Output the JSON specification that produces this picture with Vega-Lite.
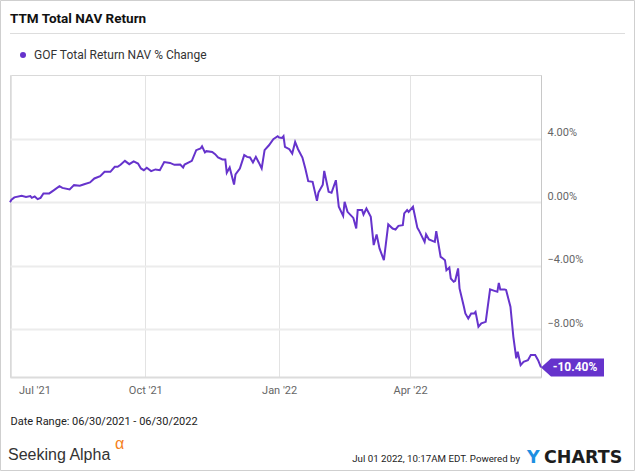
{
  "$schema": "https://vega.github.io/schema/vega-lite/v6.json",
  "autosize": {"type": "none"},
  "width": 531,
  "height": 302,
  "padding": {"left": 10, "top": 75, "right": 94, "bottom": 94},
  "background": "white",
  "config": {"font": "Roboto", "view": {"stroke": "#d9d9d9", "strokeWidth": 1}},
  "title": {"text": "TTM Total NAV Return", "anchor": "start", "frame": "group", "fontSize": 13.5, "fontWeight": "bold", "color": "#111111", "font": "Roboto", "offset": -25},
  "datasets": {
    "nav": [
      {"date": "2021-06-30", "value": 0.00},
      {"date": "2021-07-01", "value": 0.15},
      {"date": "2021-07-03", "value": 0.30},
      {"date": "2021-07-08", "value": 0.40},
      {"date": "2021-07-11", "value": 0.33},
      {"date": "2021-07-14", "value": 0.38},
      {"date": "2021-07-15", "value": 0.27},
      {"date": "2021-07-17", "value": 0.36},
      {"date": "2021-07-19", "value": 0.19},
      {"date": "2021-07-21", "value": 0.27},
      {"date": "2021-07-23", "value": 0.55},
      {"date": "2021-07-27", "value": 0.55},
      {"date": "2021-07-30", "value": 0.74},
      {"date": "2021-08-03", "value": 1.01},
      {"date": "2021-08-05", "value": 0.90},
      {"date": "2021-08-10", "value": 0.80},
      {"date": "2021-08-13", "value": 1.07},
      {"date": "2021-08-17", "value": 1.03},
      {"date": "2021-08-20", "value": 1.13},
      {"date": "2021-08-24", "value": 1.24},
      {"date": "2021-08-27", "value": 1.49},
      {"date": "2021-08-31", "value": 1.64},
      {"date": "2021-09-03", "value": 1.91},
      {"date": "2021-09-07", "value": 1.91},
      {"date": "2021-09-10", "value": 2.22},
      {"date": "2021-09-12", "value": 2.22},
      {"date": "2021-09-14", "value": 2.35},
      {"date": "2021-09-17", "value": 2.60},
      {"date": "2021-09-20", "value": 2.39},
      {"date": "2021-09-23", "value": 2.56},
      {"date": "2021-09-26", "value": 2.43},
      {"date": "2021-09-28", "value": 2.12},
      {"date": "2021-09-30", "value": 2.01},
      {"date": "2021-10-02", "value": 2.16},
      {"date": "2021-10-05", "value": 1.95},
      {"date": "2021-10-08", "value": 2.06},
      {"date": "2021-10-11", "value": 2.01},
      {"date": "2021-10-14", "value": 2.52},
      {"date": "2021-10-18", "value": 2.47},
      {"date": "2021-10-21", "value": 2.35},
      {"date": "2021-10-25", "value": 2.37},
      {"date": "2021-10-27", "value": 2.18},
      {"date": "2021-10-28", "value": 2.37},
      {"date": "2021-11-02", "value": 2.60},
      {"date": "2021-11-05", "value": 3.27},
      {"date": "2021-11-08", "value": 3.38},
      {"date": "2021-11-09", "value": 3.52},
      {"date": "2021-11-11", "value": 3.13},
      {"date": "2021-11-12", "value": 3.21},
      {"date": "2021-11-16", "value": 3.16},
      {"date": "2021-11-18", "value": 3.02},
      {"date": "2021-11-20", "value": 2.81},
      {"date": "2021-11-23", "value": 2.69},
      {"date": "2021-11-25", "value": 2.68},
      {"date": "2021-11-26", "value": 1.85},
      {"date": "2021-11-28", "value": 2.18},
      {"date": "2021-12-01", "value": 1.11},
      {"date": "2021-12-02", "value": 1.74},
      {"date": "2021-12-05", "value": 2.12},
      {"date": "2021-12-08", "value": 2.96},
      {"date": "2021-12-10", "value": 2.85},
      {"date": "2021-12-12", "value": 2.81},
      {"date": "2021-12-14", "value": 2.50},
      {"date": "2021-12-16", "value": 2.85},
      {"date": "2021-12-18", "value": 2.50},
      {"date": "2021-12-20", "value": 2.12},
      {"date": "2021-12-22", "value": 3.27},
      {"date": "2021-12-25", "value": 3.58},
      {"date": "2021-12-28", "value": 3.96},
      {"date": "2021-12-31", "value": 4.15},
      {"date": "2022-01-01", "value": 4.07},
      {"date": "2022-01-03", "value": 4.04},
      {"date": "2022-01-04", "value": 4.15},
      {"date": "2022-01-05", "value": 3.48},
      {"date": "2022-01-08", "value": 3.33},
      {"date": "2022-01-10", "value": 3.06},
      {"date": "2022-01-12", "value": 3.79},
      {"date": "2022-01-14", "value": 3.33},
      {"date": "2022-01-17", "value": 2.81},
      {"date": "2022-01-19", "value": 2.12},
      {"date": "2022-01-21", "value": 1.32},
      {"date": "2022-01-24", "value": 1.28},
      {"date": "2022-01-27", "value": 0.08},
      {"date": "2022-01-28", "value": 0.60},
      {"date": "2022-01-31", "value": 1.10},
      {"date": "2022-02-01", "value": 1.97},
      {"date": "2022-02-04", "value": 0.65},
      {"date": "2022-02-06", "value": 0.59},
      {"date": "2022-02-09", "value": 1.38},
      {"date": "2022-02-11", "value": -0.29},
      {"date": "2022-02-14", "value": -0.86},
      {"date": "2022-02-15", "value": 0.02},
      {"date": "2022-02-17", "value": -0.61},
      {"date": "2022-02-21", "value": -0.99},
      {"date": "2022-02-23", "value": -1.66},
      {"date": "2022-02-24", "value": -0.50},
      {"date": "2022-02-27", "value": -0.50},
      {"date": "2022-02-28", "value": -0.78},
      {"date": "2022-03-02", "value": -0.40},
      {"date": "2022-03-05", "value": -0.92},
      {"date": "2022-03-07", "value": -2.70},
      {"date": "2022-03-09", "value": -2.03},
      {"date": "2022-03-11", "value": -2.91},
      {"date": "2022-03-14", "value": -3.65},
      {"date": "2022-03-17", "value": -1.40},
      {"date": "2022-03-20", "value": -1.66},
      {"date": "2022-03-22", "value": -1.72},
      {"date": "2022-03-24", "value": -1.49},
      {"date": "2022-03-27", "value": -1.45},
      {"date": "2022-03-28", "value": -0.71},
      {"date": "2022-03-30", "value": -0.50},
      {"date": "2022-03-31", "value": -0.61},
      {"date": "2022-04-03", "value": -0.29},
      {"date": "2022-04-06", "value": -1.61},
      {"date": "2022-04-07", "value": -1.76},
      {"date": "2022-04-11", "value": -2.50},
      {"date": "2022-04-12", "value": -2.03},
      {"date": "2022-04-14", "value": -2.35},
      {"date": "2022-04-18", "value": -2.50},
      {"date": "2022-04-19", "value": -1.82},
      {"date": "2022-04-22", "value": -3.44},
      {"date": "2022-04-23", "value": -3.50},
      {"date": "2022-04-25", "value": -3.65},
      {"date": "2022-04-26", "value": -4.28},
      {"date": "2022-04-28", "value": -4.11},
      {"date": "2022-04-29", "value": -4.80},
      {"date": "2022-05-01", "value": -5.01},
      {"date": "2022-05-02", "value": -4.95},
      {"date": "2022-05-04", "value": -4.17},
      {"date": "2022-05-05", "value": -5.43},
      {"date": "2022-05-08", "value": -6.58},
      {"date": "2022-05-09", "value": -7.00},
      {"date": "2022-05-11", "value": -7.32},
      {"date": "2022-05-13", "value": -7.00},
      {"date": "2022-05-15", "value": -7.00},
      {"date": "2022-05-16", "value": -6.90},
      {"date": "2022-05-18", "value": -7.84},
      {"date": "2022-05-20", "value": -7.63},
      {"date": "2022-05-23", "value": -7.53},
      {"date": "2022-05-26", "value": -5.49},
      {"date": "2022-05-29", "value": -5.58},
      {"date": "2022-05-31", "value": -5.64},
      {"date": "2022-06-01", "value": -5.08},
      {"date": "2022-06-02", "value": -5.49},
      {"date": "2022-06-05", "value": -5.49},
      {"date": "2022-06-06", "value": -5.53},
      {"date": "2022-06-09", "value": -6.58},
      {"date": "2022-06-11", "value": -8.47},
      {"date": "2022-06-13", "value": -9.83},
      {"date": "2022-06-14", "value": -9.41},
      {"date": "2022-06-16", "value": -10.25},
      {"date": "2022-06-18", "value": -10.04},
      {"date": "2022-06-21", "value": -9.94},
      {"date": "2022-06-23", "value": -9.62},
      {"date": "2022-06-26", "value": -9.62},
      {"date": "2022-06-28", "value": -9.94},
      {"date": "2022-06-30", "value": -10.40}
    ],
    "last": [
      {"date": "2022-06-30", "value": -10.40}
    ]
  },
  "layer": [
    {
      "data": {"values": [{}]},
      "mark": {"type": "rect", "filled": false, "stroke": "#cfcfcf", "strokeWidth": 1},
      "encoding": {"x": {"value": -9.5}, "x2": {"value": 624.5}, "y": {"value": -74.5}, "y2": {"value": 395.5}}
    },
    {
      "data": {"values": [{}]},
      "mark": {"type": "rule", "color": "#dddddd", "strokeWidth": 1},
      "encoding": {"x": {"value": 0}, "x2": {"value": 615}, "y": {"value": -41.5}}
    },
    {
      "data": {"name": "nav"},
      "mark": {"type": "line", "strokeWidth": 2},
      "encoding": {
        "x": {
          "field": "date", "type": "temporal",
          "scale": {"type": "utc", "domain": [{"year": 2021, "month": 6, "date": 30, "utc": true}, {"year": 2022, "month": 6, "date": 30, "utc": true}]},
          "axis": {
            "values": [{"year": 2021, "month": 7, "date": 1, "utc": true}, {"year": 2021, "month": 10, "date": 1, "utc": true}, {"year": 2022, "month": 1, "date": 1, "utc": true}, {"year": 2022, "month": 4, "date": 1, "utc": true}],
            "labelExpr": "utcFormat(datum.value, \"%b '%y\")",
            "labelFont": "Roboto", "labelFontSize": 11, "labelColor": "#666666", "labelPadding": 7,
            "labelOffset": {"condition": {"test": "utcmonth(datum.value) == 6", "value": 23}, "value": 0},
            "ticks": false, "domainColor": "#dcdcdc", "domainWidth": 2,
            "grid": true, "gridColor": "#e3e3e3", "gridWidth": 1,
            "title": "Date Range: 06/30/2021 - 06/30/2022",
            "titleX": 0, "titleY": 44, "titleAnchor": "start", "titleAlign": "left", "titleBaseline": "middle",
            "titleFont": "Roboto", "titleFontSize": 11, "titleFontWeight": "normal", "titleColor": "#222222"
          }
        },
        "y": {
          "field": "value", "type": "quantitative",
          "scale": {"domain": [-11, 8], "nice": false, "zero": false},
          "axis": {
            "orient": "right", "values": [-8, -4, 0, 4],
            "labelExpr": "format(datum.value, '.2f') + '%'",
            "ticks": false, "labelPadding": 6, "labelFont": "Roboto", "labelFontSize": 11, "labelColor": "#666666",
            "labelBaseline": "alphabetic", "labelOffset": -3,
            "domainColor": "#c8c8c8", "grid": true, "gridColor": "#ececec", "gridWidth": 2, "title": null
          }
        },
        "color": {
          "datum": "GOF Total Return NAV % Change", "type": "nominal",
          "scale": {"range": ["#6633cc"]},
          "legend": {
            "orient": "none", "legendX": 7, "legendY": -26, "title": null,
            "symbolType": "circle", "symbolSize": 36, "symbolFillColor": "#6633cc", "symbolStrokeColor": "#6633cc", "symbolStrokeWidth": 0,
            "labelFont": "Roboto", "labelFontSize": 12, "labelColor": "#333333", "labelOffset": 5, "labelLimit": 400, "padding": 0
          }
        }
      }
    },
    {
      "data": {"name": "last"},
      "mark": {"type": "point", "shape": "M0,0L10,-9L63,-9L63,9L10,9Z", "size": 4, "filled": true, "color": "#6633cc", "opacity": 1, "strokeWidth": 0},
      "encoding": {"x": {"field": "date", "type": "temporal"}, "y": {"field": "value", "type": "quantitative"}}
    },
    {
      "data": {"name": "last"},
      "mark": {"type": "text", "text": "-10.40%", "color": "white", "font": "Roboto", "fontWeight": "bold", "fontSize": 12, "dx": 34, "align": "center", "baseline": "middle"},
      "encoding": {"x": {"field": "date", "type": "temporal"}, "y": {"field": "value", "type": "quantitative"}}
    },
    {
      "data": {"values": [{}]},
      "mark": {"type": "text", "text": "Seeking Alpha", "font": "Liberation Sans", "fontSize": 16, "color": "#333333", "align": "left", "baseline": "middle"},
      "encoding": {"x": {"value": -2}, "y": {"value": 380}}
    },
    {
      "data": {"values": [{}]},
      "mark": {"type": "text", "text": "α", "font": "Liberation Sans", "fontSize": 16, "color": "#f58220", "align": "left", "baseline": "middle"},
      "encoding": {"x": {"value": 105}, "y": {"value": 369}}
    },
    {
      "data": {"values": [{}]},
      "mark": {"type": "text", "text": "Jul 01 2022, 10:17AM EDT.  Powered by", "font": "Roboto", "fontSize": 9.7, "color": "#222222", "align": "right", "baseline": "middle"},
      "encoding": {"x": {"value": 510}, "y": {"value": 384}}
    },
    {
      "data": {"values": [{}]},
      "mark": {"type": "text", "text": "Y", "font": "DejaVu Sans", "fontWeight": "bold", "fontSize": 17.5, "color": "#1e8fe1", "align": "left", "baseline": "middle"},
      "encoding": {"x": {"value": 517}, "y": {"value": 382.5}}
    },
    {
      "data": {"values": [{}]},
      "mark": {"type": "text", "text": "CHARTS", "font": "DejaVu Sans", "fontWeight": "bold", "fontSize": 17.5, "color": "#1d1d1d", "align": "left", "baseline": "middle"},
      "encoding": {"x": {"value": 534}, "y": {"value": 382.5}}
    }
  ]
}
